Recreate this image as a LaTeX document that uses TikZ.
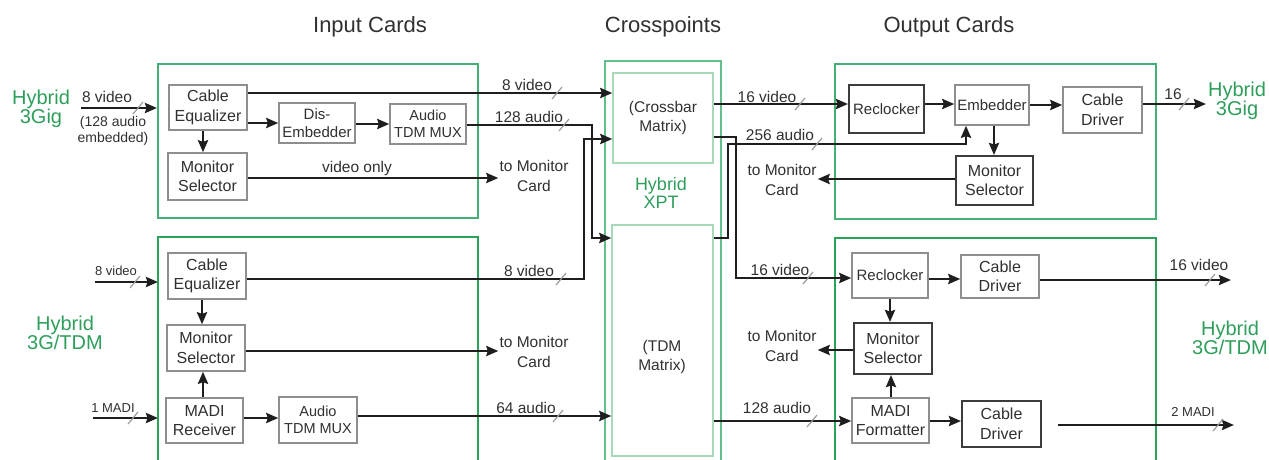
\documentclass[tikz,border=0pt]{standalone}
\usepackage{fontspec}
\setmainfont{Liberation Sans}
\usetikzlibrary{arrows.meta}
\definecolor{txt}{HTML}{303030}
\definecolor{ln}{HTML}{1E1E1E}
\definecolor{boxgray}{HTML}{8E8E8E}
\definecolor{boxdark}{HTML}{3C3C3C}
\definecolor{cardgreen}{HTML}{45B075}
\definecolor{cardgreenb}{HTML}{2AA257}
\definecolor{xptgreen}{HTML}{62BE8A}
\definecolor{inngreen}{HTML}{A8DABA}
\definecolor{hgreen}{HTML}{2E9E5B}
\definecolor{tickgray}{HTML}{9C9C9C}
\tikzset{
  blk/.style={draw=boxgray, line width=1.4pt, fill=white, inner sep=0pt, align=center,
    text=txt, font=\fontsize{16}{19.5}\selectfont},
  dblk/.style={blk, draw=boxdark, line width=2pt},
  card/.style={draw=cardgreen, line width=2pt, inner sep=0pt},
  cardb/.style={draw=cardgreenb, line width=2.2pt},
  xframe/.style={draw=xptgreen, line width=1.8pt},
  inner/.style={draw=inngreen, line width=1.4pt, inner sep=0pt, align=center,
    text=txt, font=\fontsize{15.5}{19}\selectfont},
  lbl/.style={text=txt, font=\fontsize{15.5}{19.5}\selectfont, inner sep=1pt, align=center},
  mlbl/.style={text=txt, font=\fontsize{14}{16}\selectfont, inner sep=0pt, align=center},
  slbl/.style={text=txt, font=\fontsize{13}{15}\selectfont, inner sep=0pt, align=center},
  hyb/.style={text=hgreen, font=\fontsize{20}{18.5}\selectfont, inner sep=0pt, align=center},
  xhyb/.style={text=hgreen, font=\fontsize{18}{18.5}\selectfont, inner sep=0pt, align=center},
  ttl/.style={text=txt, font=\fontsize{22}{24}\selectfont, inner sep=0pt},
  arr/.style={draw=ln, line width=2.6pt, -{Stealth[length=12pt,width=10pt,inset=1.5pt]}},
  tk/.style={draw=tickgray, line width=1.2pt}
}
\newcommand{\tickat}[2]{\draw[tk,shift={(#1,#2)}] (-5,6) -- (5,-6);}
\begin{document}
\begin{tikzpicture}[x=1pt,y=-1pt]
\useasboundingbox (0,0) rectangle (1269,459);
\clip (0,0) rectangle (1269,459);

% titles
\node[ttl] (t1) at (370,27) {Input Cards};
\node[ttl] (t2) at (663,27) {Crosspoints};
\node[ttl] (t3) at (949,27) {Output Cards};

% cards
\node[card, minimum width=320pt, minimum height=154pt] (cardA) at (318,141) {};
\draw[cardb] (158,465) -- (158,237) -- (478,237) -- (478,465);
\node[card, minimum width=321pt, minimum height=155pt] (cardC) at (995.5,141.5) {};
\draw[cardb] (835,465) -- (835,238) -- (1156,238) -- (1156,465);
\draw[xframe] (605,465) -- (605,61) -- (721,61) -- (721,465);
\coordinate (cardBw) at (158,300);

% crosspoints
\node[inner, minimum width=100pt, minimum height=90pt] (xbar) at (663,118) {(Crossbar\\Matrix)};
\node[inner, minimum width=101pt, minimum height=231pt] (tdm) at (662.5,340.5) {};
\node[inner, draw=none] (tdmt) at (662,357) {(TDM\\Matrix)};
\node[xhyb] (hx) at (661,193) {Hybrid\\XPT};

% side labels
\node[hyb] (h1) at (41,109) {Hybrid\\3Gig};
\node[hyb] (h2) at (65,333) {Hybrid\\3G/TDM};
\node[hyb] (h3) at (1237,101) {Hybrid\\3Gig};
\node[hyb] (h4) at (1230,338) {Hybrid\\3G/TDM};

% input top blocks
\node[blk, minimum width=78pt, minimum height=45pt] (ceqA) at (208,107.5) {Cable\\Equalizer};
\node[blk, minimum width=79pt, minimum height=47pt] (msA) at (207.5,176.5) {Monitor\\Selector};
\node[blk, minimum width=76pt, minimum height=40pt, font=\fontsize{15}{18.5}\selectfont] (disA) at (317,123) {Dis-\\Embedder};
\node[blk, minimum width=76pt, minimum height=40pt, font=\fontsize{14.5}{17}\selectfont] (muxA) at (428,124) {Audio\\TDM MUX};

% input bottom blocks
\node[blk, minimum width=78pt, minimum height=46pt] (ceqB) at (207,276) {Cable\\Equalizer};
\node[blk, minimum width=78pt, minimum height=46pt] (msB) at (206,348) {Monitor\\Selector};
\node[blk, minimum width=77pt, minimum height=45pt] (madiR) at (204.5,420.5) {MADI\\Receiver};
\node[blk, minimum width=78pt, minimum height=46pt, font=\fontsize{14.5}{17}\selectfont] (muxB) at (318,420) {Audio\\TDM MUX};

% output top blocks
\node[dblk, minimum width=75pt, minimum height=48pt, font=\fontsize{15}{19}\selectfont] (rclA) at (886.5,109) {Reclocker};
\node[blk, minimum width=74pt, minimum height=40pt, font=\fontsize{15}{19}\selectfont] (embA) at (992,105) {Embedder};
\node[blk, minimum width=79pt, minimum height=46pt] (cdA) at (1102.5,110) {Cable\\Driver};
\node[dblk, minimum width=77pt, minimum height=49pt] (msC) at (994.5,180.5) {Monitor\\Selector};

% output bottom blocks
\node[blk, minimum width=76pt, minimum height=45pt, font=\fontsize{15}{19}\selectfont] (rclB) at (890,275.5) {Reclocker};
\node[blk, minimum width=78pt, minimum height=43pt] (cdB) at (1000,276.5) {Cable\\Driver};
\node[dblk, minimum width=78pt, minimum height=51pt] (msD) at (893,348.5) {Monitor\\Selector};
\node[blk, minimum width=77pt, minimum height=45pt] (madiF) at (890.5,420.5) {MADI\\Formatter};
\node[dblk, minimum width=79pt, minimum height=46pt] (cdC) at (1001.5,424) {Cable\\Driver};

% text labels
\node[lbl] (l1) at (107,97) {8 video};
\node[mlbl] (l2) at (113,131) {(128 audio\\embedded)};
\node[lbl] (l3) at (527,85) {8 video};
\node[lbl] (l4) at (529,117) {128 audio};
\node[lbl] (l5) at (357,168) {video only};
\node[lbl] (tmA) at (534,176) {to Monitor\\Card};
\node[slbl] (l6) at (116,271) {8 video};
\node[slbl] (l7) at (113,408) {1 MADI};
\node[lbl] (l8) at (529,271) {8 video};
\node[lbl] (tmB) at (534,352) {to Monitor\\Card};
\node[lbl] (l9) at (526,408) {64 audio};
\node[lbl] (l10) at (767,97) {16 video};
\node[lbl] (l11) at (780,135) {256 audio};
\node[lbl] (tmC) at (782,180) {to Monitor\\Card};
\node[lbl] (l12) at (780,270) {16 video};
\node[lbl] (tmD) at (782,346) {to Monitor\\Card};
\node[lbl] (l13) at (777,408) {128 audio};
\node[lbl] (l14) at (1173,94) {16};
\node[lbl] (l15) at (1199,265) {16 video};
\node[slbl] (l16) at (1193,412) {2 MADI};

% free ends
\coordinate (inA) at (81,108);
\coordinate (inB) at (95,282);
\coordinate (inC) at (93,418);
\coordinate (outA) at (1206,104);
\coordinate (outB) at (1231,280);
\coordinate (outC) at (1234,425);

% input top connectors
\draw[arr] (inA) -- (cardA.west |- inA);
\draw[arr] (ceqA.east |- 0,93) -- (xbar.west |- 0,93);
\draw[arr] (ceqA.east |- 0,123) -- (disA.west |- 0,123);
\draw[arr] (ceqA.south -| 203,0) -- (msA.north -| 203,0);
\draw[arr] (disA.east |- 0,124) -- (muxA.west |- 0,124);
\draw[arr] (muxA.east |- 0,125) -| (592,238) -- (tdm.west |- 0,238);
\draw[arr] (msA.east |- 0,178) -- (tmA.west |- 0,178);

% input bottom connectors
\draw[arr] (inB) -- (cardBw |- inB);
\draw[arr] (inC) -- (cardBw |- inC);
\draw[arr] (ceqB.east |- 0,279) -| (584,139) -- (xbar.west |- 0,139);
\draw[arr] (ceqB.south -| 202,0) -- (msB.north -| 202,0);
\draw[arr] (madiR.north -| 203,0) -- (msB.south -| 203,0);
\draw[arr] (msB.east |- 0,351) -- (tmB.west |- 0,351);
\draw[arr] (madiR.east |- 0,418) -- (muxB.west |- 0,418);
\draw[arr] (muxB.east |- 0,416) -- (tdm.west |- 0,416);

% crosspoint outputs
\draw[arr] (xbar.east |- 0,104) -- (rclA.west |- 0,104);
\draw[arr] (tdm.east |- 0,238) -| (728,144) -| (embA.south -| 966,0);
\draw[arr] (xbar.east |- 0,137) -| (736,278) -- (rclB.west |- 0,278);
\draw[arr] (tdm.east |- 0,421) -- (madiF.west |- 0,421);

% output top connectors
\draw[arr] (rclA.east |- 0,104) -- (embA.west |- 0,104);
\draw[arr] (embA.east |- 0,105) -- (cdA.west |- 0,105);
\draw[arr] (cdA.east |- outA) -- (outA);
\draw[arr] (embA.south -| 994,0) -- (msC.north -| 994,0);
\draw[arr] (msC.west |- 0,179) -- (tmC.east |- 0,179);

% output bottom connectors
\draw[arr] (rclB.east |- 0,279) -- (cdB.west |- 0,279);
\draw[arr] (cdB.east |- outB) -- (outB);
\draw[arr] (rclB.south -| 890,0) -- (msD.north -| 890,0);
\draw[arr] (madiF.north -| 891,0) -- (msD.south -| 891,0);
\draw[arr] (msD.west |- 0,350) -- (tmD.east |- 0,350);
\draw[arr] (madiF.east |- 0,421) -- (cdC.west |- 0,421);
\draw[arr, shorten <=16pt] (cdC.east |- outC) -- (outC);

% bus ticks
\tickat{138}{108}
\tickat{557}{93}
\tickat{564}{125}
\tickat{135}{282}
\tickat{133}{418}
\tickat{561}{279}
\tickat{558}{416}
\tickat{800}{104}
\tickat{817}{144}
\tickat{1184}{104}
\tickat{808}{278}
\tickat{812}{421}
\tickat{1210}{280}
\tickat{1218}{425}
\end{tikzpicture}
\end{document}
